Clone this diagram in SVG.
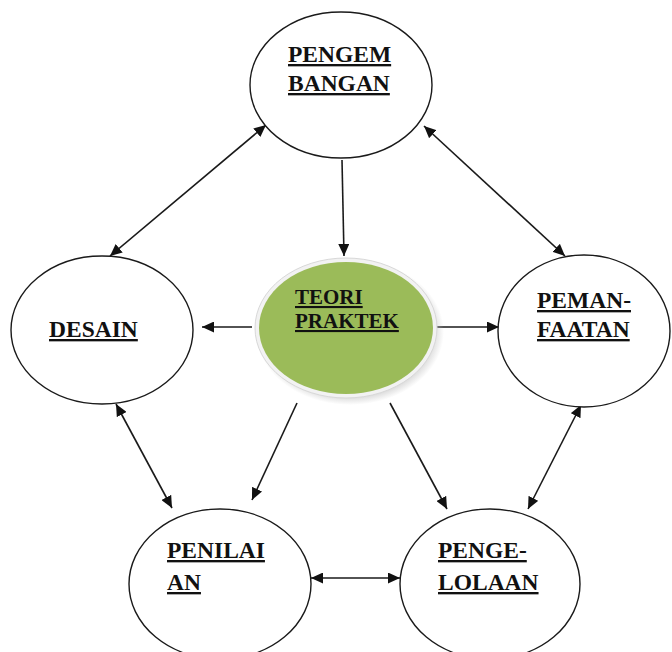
<svg xmlns="http://www.w3.org/2000/svg" width="672" height="652" viewBox="0 0 672 652">
<defs>
<style>
.node{fill:#fff;stroke:#1a1a1a;stroke-width:1.4}
.lbl{font-family:"Liberation Serif","Times New Roman",serif;font-weight:bold;font-size:23.5px;fill:#111;text-decoration:underline}
.ctr{font-size:21px}
.con line{stroke:#1a1a1a;stroke-width:1.6}
</style>
<marker id="ah" markerUnits="userSpaceOnUse" markerWidth="13" markerHeight="11" refX="12" refY="5.5" orient="auto-start-reverse">
<path d="M0,0 L12,5.5 L0,11 Z" fill="#111"/>
</marker>
<radialGradient id="sh" cx="0.5" cy="0.5" r="0.5">
<stop offset="0.85" stop-color="#bbb" stop-opacity="0.7"/>
<stop offset="1" stop-color="#bbb" stop-opacity="0"/>
</radialGradient>
</defs>
<rect width="672" height="652" fill="#fff"/>
<g class="con">
<line x1="266" y1="125" x2="110" y2="256" marker-start="url(#ah)" marker-end="url(#ah)"/>
<line x1="424" y1="126" x2="565" y2="256" marker-start="url(#ah)" marker-end="url(#ah)"/>
<line x1="342" y1="160" x2="344" y2="256" marker-end="url(#ah)"/>
<line x1="252" y1="327" x2="202" y2="327" marker-end="url(#ah)"/>
<line x1="436" y1="327" x2="499" y2="327" marker-end="url(#ah)"/>
<line x1="116" y1="404" x2="172" y2="508" marker-start="url(#ah)" marker-end="url(#ah)"/>
<line x1="297" y1="403" x2="252" y2="500" marker-end="url(#ah)"/>
<line x1="390" y1="403" x2="447" y2="509" marker-end="url(#ah)"/>
<line x1="581" y1="405" x2="528" y2="509" marker-start="url(#ah)" marker-end="url(#ah)"/>
<line x1="311" y1="578" x2="400" y2="578" marker-start="url(#ah)" marker-end="url(#ah)"/>
</g>
<g id="pengembangan">
<ellipse class="node" cx="341" cy="85" rx="91" ry="73"/>
<text class="lbl" x="288" y="62">PENGEM</text>
<text class="lbl" x="288" y="91">BANGAN</text>
</g>
<g id="desain">
<ellipse class="node" cx="102" cy="330" rx="91" ry="74"/>
<text class="lbl" x="49" y="337">DESAIN</text>
</g>
<g id="pemanfaatan">
<ellipse class="node" cx="584" cy="331" rx="86" ry="76"/>
<text class="lbl" x="537" y="308">PEMAN-</text>
<text class="lbl" x="537" y="337">FAATAN</text>
</g>
<g id="penilaian">
<ellipse class="node" cx="220" cy="584" rx="91" ry="75"/>
<text class="lbl" x="167" y="558">PENILAI</text>
<text class="lbl" x="167" y="590">AN</text>
</g>
<g id="pengelolaan">
<ellipse class="node" cx="490" cy="584" rx="90" ry="75"/>
<text class="lbl" x="438" y="558">PENGE-</text>
<text class="lbl" x="438" y="590">LOLAAN</text>
</g>
<g id="teori-praktek">
<ellipse cx="350" cy="332" rx="94" ry="73" fill="url(#sh)"/>
<ellipse cx="346" cy="328" rx="91" ry="70" fill="#f2f2f2" stroke="#d8d8d8" stroke-width="1"/>
<ellipse cx="346" cy="328" rx="87" ry="66" fill="#9bbb59"/>
<text class="lbl ctr" x="295" y="304">TEORI</text>
<text class="lbl ctr" x="295" y="328">PRAKTEK</text>
</g>
</svg>
